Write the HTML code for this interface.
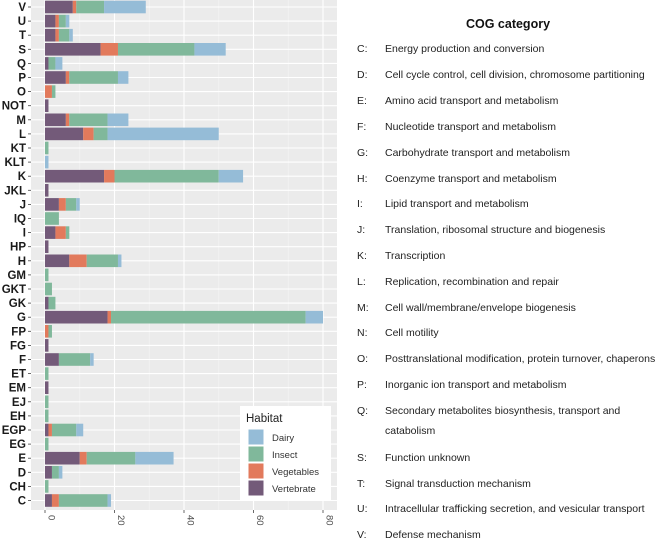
<!DOCTYPE html>
<html><head><meta charset="utf-8"><style>
body{margin:0;background:#fff;width:669px;height:538px;overflow:hidden;font-family:"Liberation Sans",sans-serif}
svg{position:absolute;left:0;top:0}
</style></head><body>
<svg width="669" height="538" id="chart">
<g id="plot"></g>
<g id="side"></g>
</svg>
<script>
const categories=["V","U","T","S","Q","P","O","NOT","M","L","KT","KLT","K","JKL","J","IQ","I","HP","H","GM","GKT","GK","G","FP","FG","F","ET","EM","EJ","EH","EGP","EG","E","D","CH","C"];
const vertebrate=[8,3,3,16,1,6,0,1,6,11,0,0,17,1,4,0,3,1,7,0,0,1,18,0,1,4,0,1,0,0,1,0,10,2,0,2];
const vegetables=[1,1,1,5,0,1,2,0,1,3,0,0,3,0,2,0,3,0,5,0,0,0,1,1,0,0,0,0,0,0,1,0,2,0,0,2];
const insect=[8,2,3,22,2,14,1,0,11,4,1,0,30,0,3,4,1,0,9,1,2,2,56,1,0,9,1,0,1,1,7,1,14,2,1,14];
const dairy=[12,1,1,9,2,3,0,0,6,32,0,1,7,0,1,0,0,0,1,0,0,0,5,0,0,1,0,0,0,0,2,0,11,1,0,1];
const xTicks=[0,20,40,60,80];
const seriesNames=["Vertebrate","Vegetables","Insect","Dairy"];
const seriesColors=["#735a79","#e27a5c","#80b89b","#95bcd7"];
const legendOrder=["Dairy","Insect","Vegetables","Vertebrate"];
const cogLetters=["C:","D:","E:","F:","G:","H:","I:","J:","K:","L:","M:","N:","O:","P:","Q:","","S:","T:","U:","V:"];
const cogTexts=["Energy production and conversion","Cell cycle control, cell division, chromosome partitioning","Amino acid transport and metabolism","Nucleotide transport and metabolism","Carbohydrate transport and metabolism","Coenzyme transport and metabolism","Lipid transport and metabolism","Translation, ribosomal structure and biogenesis","Transcription","Replication, recombination and repair","Cell wall/membrane/envelope biogenesis","Cell motility","Posttranslational modification, protein turnover, chaperons","Inorganic ion transport and metabolism","Secondary metabolites biosynthesis, transport and","catabolism","Function unknown","Signal transduction mechanism","Intracellular trafficking secretion, and vesicular transport","Defense mechanism"];
const cogY=[48,74,100,126,152,178,203,229,255,281,307,332,358,384,410,430,457,483,508,534];

const NS="http://www.w3.org/2000/svg";
const P={l:31,r:337,t:0,b:510};
const x=v=>45+v*(278/80);
const y=i=>7+i*14.1;
const plot=document.getElementById('plot');
function mk(tag,at,parent){const e=document.createElementNS(NS,tag);for(const k in at)e.setAttribute(k,at[k]);(parent||plot).appendChild(e);return e;}
const bg=mk('rect',{x:P.l,y:P.t,width:P.r-P.l,height:P.b-P.t,fill:'#ebebeb'});


for(let v=10;v<=90;v+=20){if(x(v)<P.r){const g=mk('line',{x1:x(v),x2:x(v),y1:P.t,y2:P.b,stroke:'#f5f5f5','stroke-width':0.6});}}
xTicks.forEach(v=>{const g=mk('line',{x1:x(v),x2:x(v),y1:P.t,y2:P.b,stroke:'#fff','stroke-width':1.1});});
categories.forEach((c,i)=>{const g=mk('line',{x1:P.l,x2:P.r,y1:y(i),y2:y(i),stroke:'#fff','stroke-width':1.1});});
const series=[vertebrate,vegetables,insect,dairy];
categories.forEach((c,i)=>{
  let acc=0;
  series.forEach((s,k)=>{
    if(s[i]>0){const r=mk('rect',{x:x(acc),y:y(i)-6.3,width:x(acc+s[i])-x(acc),height:12.6,fill:seriesColors[k]});
    
    }
    acc+=s[i];
  });
  const t=mk('text',{x:26,y:y(i)+4,'text-anchor':'end','font-size':11.5,'font-weight':'bold',fill:'#1a1a1a'});t.textContent=c;
  
  
  const tk=mk('line',{x1:28,x2:31,y1:y(i),y2:y(i),stroke:'#444','stroke-width':0.8});
  
  
});
xTicks.forEach(v=>{
  const tk=mk('line',{x1:x(v),x2:x(v),y1:P.b,y2:P.b+3,stroke:'#444','stroke-width':0.8});
  
  
  const t=mk('text',{x:0,y:0,transform:`translate(${x(v)+3.5},${P.b+5}) rotate(90)`,'font-size':9.5,fill:'#4d4d4d'});t.textContent=v;
  
  
});
// legend
const lg=mk('g',{});


mk('rect',{x:240,y:406,width:91,height:95,fill:'#fff'},lg);
const lt=mk('text',{x:246,y:422,'font-size':11.5,fill:'#222'},lg);lt.textContent='Habitat';


legendOrder.forEach((n,j)=>{
  const k=seriesNames.indexOf(n);
  const e=mk('g',{},lg);
  
  
  mk('rect',{x:248,y:429+j*17,width:16,height:16,fill:seriesColors[k],stroke:'#fff'},e);
  const t=mk('text',{x:272,y:441+j*17,'font-size':9.5,fill:'#333'},e);t.textContent=n;
});
// side list
const side=document.getElementById('side');
const ti=mk('text',{x:508,y:28,'text-anchor':'middle','font-size':12.5,'font-weight':'bold',fill:'#111'},side);ti.textContent='COG category';


cogTexts.forEach((s,i)=>{
  const g=mk('g',{},side);
  
  
  const a=mk('text',{x:357,y:cogY[i]+4,'font-size':10.5,fill:'#222'},g);a.textContent=cogLetters[i];
  const b=mk('text',{x:385,y:cogY[i]+4,'font-size':10.5,fill:'#222'},g);b.textContent=s;
});
</script>
</body></html>
